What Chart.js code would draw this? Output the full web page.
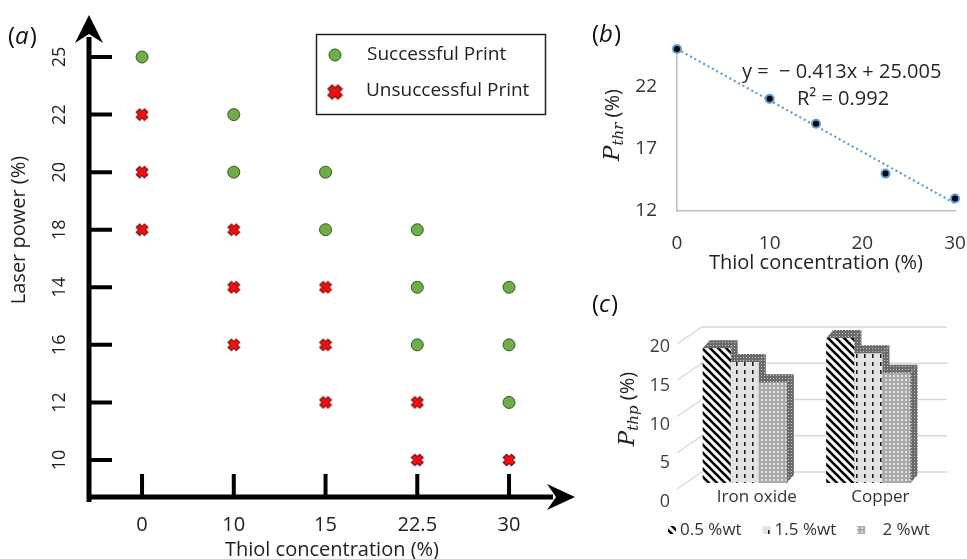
<!DOCTYPE html>
<html>
<head>
<meta charset="utf-8">
<script src="https://cdn.jsdelivr.net/npm/chart.js@4.4.1/dist/chart.umd.min.js"></script>
<style>
  html, body { margin: 0; padding: 0; background: #fff; }
  #wrap { position: relative; width: 967px; height: 559px; overflow: hidden; }
  canvas { position: absolute; }
  #chartA { left: 0; top: 0; }
  #chartB { left: 580px; top: 0; }
  #chartC { left: 580px; top: 290px; }
</style>
</head>
<body>
<div id="wrap">
  <canvas id="chartA" width="580" height="559"></canvas>
  <canvas id="chartB" width="387" height="290"></canvas>
  <canvas id="chartC" width="387" height="269"></canvas>
</div>
<script>
// ---- panel (a): print map, both axes are evenly spaced categories
const thiolCats = ['0', '10', '15', '22.5', '30'];
const powerCats = ['10', '12', '16', '14', '18', '20', '22', '25']; // bottom to top, as printed
const successX = ['0', '10', '10', '15', '15', '22.5', '22.5', '22.5', '30', '30', '30'];
const successY = ['25', '22', '20', '20', '18', '18', '14', '16', '14', '16', '12'];
const failX = ['0', '0', '0', '10', '10', '10', '15', '15', '15', '22.5', '22.5', '30'];
const failY = ['22', '20', '18', '18', '14', '16', '14', '16', '12', '12', '10', '10'];

// ---- panel (b): threshold power vs thiol
const thiolB = [0, 10, 15, 22.5, 30];
const pThr = [25, 21, 19, 15, 13];
const trendX = [0, 30];
const trendY = [25.005, 12.615];
const pThrTicks = [12, 17, 22];

// ---- panel (c): 3D bars
const fillers = ['Iron oxide', 'Copper'];
const wt05 = [18.6, 20.0];
const wt15 = [16.7, 17.9];
const wt2 = [13.9, 15.2];
const pThpTicks = [0, 5, 10, 15, 20];

const SANS = '"Open Sans", "DejaVu Sans", sans-serif';
Chart.defaults.font.family = SANS;
Chart.defaults.color = '#222';

// fixed axis size, no extra padding for overhanging labels
function fixSize(w, h) {
  return s => {
    if (w !== null) s.width = w;
    if (h !== null) s.height = h;
    s.paddingLeft = s.paddingRight = s.paddingTop = s.paddingBottom = 0;
  };
}

function makeCross(size) {
  const c = document.createElement('canvas');
  c.width = c.height = size;
  const g = c.getContext('2d');
  const m = 2.5;
  g.lineCap = 'butt';
  g.strokeStyle = '#7a0c0c'; g.lineWidth = 6;
  g.beginPath();
  g.moveTo(m, m); g.lineTo(size - m, size - m);
  g.moveTo(size - m, m); g.lineTo(m, size - m);
  g.stroke();
  g.strokeStyle = '#f01010'; g.lineWidth = 4;
  g.beginPath();
  g.moveTo(m + 0.8, m + 0.8); g.lineTo(size - m - 0.8, size - m - 0.8);
  g.moveTo(size - m - 0.8, m + 0.8); g.lineTo(m + 0.8, size - m - 0.8);
  g.stroke();
  return c;
}
const crossImg = makeCross(14);

function panelTag(ctx, letter, x, y) {
  ctx.save();
  ctx.fillStyle = '#111';
  ctx.textBaseline = 'middle';
  ctx.textAlign = 'left';
  const up = '24px ' + SANS, it = 'italic 24px ' + SANS;
  ctx.font = up; ctx.fillText('(', x, y);
  let w = ctx.measureText('(').width;
  ctx.font = it; ctx.fillText(letter, x + w, y);
  w += ctx.measureText(letter).width;
  ctx.font = up; ctx.fillText(')', x + w + 1, y);
  ctx.restore();
}

// italic P with subscript, then (%) — rotated, centred at cx, cy
function pTitle(ctx, sub, cx, cy) {
  ctx.save();
  ctx.translate(cx, cy);
  ctx.rotate(-Math.PI / 2);
  ctx.fillStyle = '#222';
  ctx.textBaseline = 'middle';
  ctx.textAlign = 'left';
  const fP = 'italic 23px "DejaVu Serif", "Liberation Serif", serif';
  const fS = 'italic 15px "DejaVu Serif", "Liberation Serif", serif';
  const fT = '20px ' + SANS;
  ctx.font = fP; const wP = ctx.measureText('P').width;
  ctx.font = fS; const wS = ctx.measureText(sub).width;
  ctx.font = fT; const wT = ctx.measureText(' (%)').width;
  let x = -(wP + wS + wT) / 2;
  ctx.font = fP; ctx.fillText('P', x, 0); x += wP;
  ctx.font = fS; ctx.fillText(sub, x, 6); x += wS;
  ctx.font = fT; ctx.fillText(' (%)', x, 0);
  ctx.restore();
}

// ================= panel (a) =================
const axesA = {
  id: 'axesA',
  afterDraw(chart) {
    const { ctx, chartArea: a, scales: { x, y } } = chart;
    ctx.save();
    ctx.strokeStyle = '#000';
    ctx.fillStyle = '#000';
    ctx.lineWidth = 5;
    ctx.beginPath();
    ctx.moveTo(a.left, a.bottom + 5); ctx.lineTo(a.left, a.top + 22);
    ctx.moveTo(a.left - 2.5, a.bottom); ctx.lineTo(a.right - 22, a.bottom);
    ctx.stroke();
    ctx.beginPath();
    ctx.moveTo(a.left, a.top);
    ctx.lineTo(a.left + 14, a.top + 28);
    ctx.lineTo(a.left, a.top + 19);
    ctx.lineTo(a.left - 14, a.top + 28);
    ctx.closePath(); ctx.fill();
    ctx.beginPath();
    ctx.moveTo(a.right, a.bottom);
    ctx.lineTo(a.right - 28, a.bottom - 13);
    ctx.lineTo(a.right - 19, a.bottom);
    ctx.lineTo(a.right - 28, a.bottom + 13);
    ctx.closePath(); ctx.fill();
    ctx.lineWidth = 4;
    ctx.beginPath();
    y.ticks.forEach(t => {
      const py = y.getPixelForValue(t.value);
      ctx.moveTo(a.left, py); ctx.lineTo(a.left + 23, py);
    });
    x.ticks.forEach(t => {
      const px = x.getPixelForValue(t.value);
      ctx.moveTo(px, a.bottom); ctx.lineTo(px, a.bottom - 23);
    });
    ctx.stroke();
    ctx.restore();
  }
};

const legendA = {
  id: 'legendA',
  afterDraw(chart) {
    const { ctx } = chart;
    const ds = chart.data.datasets;
    ctx.save();
    ctx.strokeStyle = '#222'; ctx.lineWidth = 1.5;
    ctx.strokeRect(316.5, 34.5, 229, 80);
    ctx.beginPath();
    ctx.arc(335, 55, ds[0].pointRadius, 0, Math.PI * 2);
    ctx.fillStyle = ds[0].backgroundColor; ctx.fill();
    ctx.strokeStyle = ds[0].borderColor; ctx.lineWidth = ds[0].borderWidth; ctx.stroke();
    ctx.drawImage(ds[1].pointStyle, 335 - 8.5, 92 - 8.5, 17, 17);
    ctx.fillStyle = '#222';
    ctx.font = '19px ' + SANS;
    ctx.textBaseline = 'middle';
    ctx.fillText(ds[0].label, 367, 55);
    ctx.fillText(ds[1].label, 366, 91);
    ctx.restore();
  }
};

const textA = {
  id: 'textA',
  afterDraw(chart) {
    const { ctx } = chart;
    panelTag(ctx, 'a', 8, 37);
    ctx.save();
    ctx.translate(19, 230);
    ctx.rotate(-Math.PI / 2);
    ctx.font = '20px ' + SANS;
    ctx.fillStyle = '#222';
    ctx.textAlign = 'center';
    ctx.textBaseline = 'middle';
    ctx.fillText('Laser power (%)', 0, 0);
    ctx.restore();
  }
};

new Chart(document.getElementById('chartA'), {
  type: 'scatter',
  data: {
    datasets: [
      {
        label: 'Successful Print',
        data: successX.map((x, i) => ({ x: thiolCats.indexOf(x), y: powerCats.indexOf(successY[i]) })),
        pointStyle: 'circle', pointRadius: 6,
        backgroundColor: '#6fad47', borderColor: '#38562a', borderWidth: 1
      },
      {
        label: 'Unsuccessful Print',
        data: failX.map((x, i) => ({ x: thiolCats.indexOf(x), y: powerCats.indexOf(failY[i]) })),
        pointStyle: crossImg, pointRadius: 7,
        backgroundColor: '#f01010', borderColor: '#7a0c0c', borderWidth: 1
      }
    ]
  },
  options: {
    responsive: false,
    animation: false,
    layout: { autoPadding: false, padding: { top: 15, right: 5, left: 0, bottom: 0 } },
    plugins: { legend: { display: false }, tooltip: { enabled: false } },
    scales: {
      x: {
        type: 'linear', min: -0.578, max: 4.719,
        afterBuildTicks: s => { s.ticks = thiolCats.map((_, i) => ({ value: i })); },
        afterFit: fixSize(null, 62),
        grid: { display: false, drawTicks: false },
        border: { display: false },
        ticks: { autoSkip: false, padding: 16, font: { size: 20 }, callback: (v, i) => thiolCats[i] },
        title: {
          display: true, text: 'Thiol concentration (%)',
          font: { size: 20 }, padding: { top: 0, bottom: -3 }
        }
      },
      y: {
        type: 'linear', min: -0.643, max: 7.73,
        afterBuildTicks: s => { s.ticks = powerCats.map((_, i) => ({ value: i })); },
        afterFit: fixSize(89, null),
        grid: { display: false, drawTicks: false },
        border: { display: false },
        ticks: {
          autoSkip: false, minRotation: 90, maxRotation: 90, crossAlign: 'center',
          padding: 19, font: { size: 18 }, callback: (v, i) => powerCats[i]
        }
      }
    }
  },
  plugins: [axesA, legendA, textA]
});

// ================= panel (b) =================
const textB = {
  id: 'textB',
  afterDraw(chart) {
    const { ctx } = chart;
    panelTag(ctx, 'b', 12, 35);
    pTitle(ctx, 'thr', 33, 125);
    ctx.save();
    ctx.font = '20px ' + SANS;
    ctx.fillStyle = '#262626';
    ctx.textBaseline = 'middle';
    ctx.fillText('y =  \u2212 0.413x + 25.005', 162, 72);
    ctx.fillText('R\u00b2 = 0.992', 217, 99);
    ctx.restore();
  }
};

new Chart(document.getElementById('chartB'), {
  type: 'scatter',
  data: {
    datasets: [
      {
        type: 'line', label: 'Linear fit',
        data: trendX.map((x, i) => ({ x, y: trendY[i] })),
        borderColor: '#5b9bd5', borderWidth: 2.2, borderDash: [2, 3],
        pointRadius: 0, fill: false, clip: false, order: 2
      },
      {
        label: 'Pthr',
        data: thiolB.map((x, i) => ({ x, y: pThr[i] })),
        backgroundColor: '#000', borderColor: '#5b9bd5', borderWidth: 2,
        pointRadius: 4, clip: false, order: 1
      }
    ]
  },
  options: {
    responsive: false,
    animation: false,
    layout: { autoPadding: false, padding: { top: 49, right: 12, left: 0, bottom: 0 } },
    plugins: { legend: { display: false }, tooltip: { enabled: false } },
    scales: {
      x: {
        min: 0, max: 30,
        afterBuildTicks: s => { s.ticks = [0, 10, 20, 30].map(v => ({ value: v })); },
        afterFit: fixSize(null, 79),
        grid: { display: false, drawTicks: false },
        border: { display: true, color: '#bfbfbf', width: 1.5 },
        ticks: { padding: 21, font: { size: 19 }, color: '#333' },
        title: {
          display: true, text: 'Thiol concentration (%)',
          font: { size: 20 }, padding: { top: 0, bottom: 15 }
        }
      },
      y: {
        min: 12, max: 25,
        afterBuildTicks: s => { s.ticks = pThrTicks.map(v => ({ value: v })); },
        afterFit: fixSize(97, null),
        grid: { display: false, drawTicks: false },
        border: { display: true, color: '#bfbfbf', width: 1.5 },
        ticks: { padding: 20, font: { size: 19 }, color: '#333' }
      }
    }
  },
  plugins: [textB]
});

// ================= panel (c) =================
const ctxC = document.getElementById('chartC').getContext('2d');
function makePattern(w, h, paint) {
  const c = document.createElement('canvas');
  c.width = w; c.height = h;
  paint(c.getContext('2d'), w, h);
  return ctxC.createPattern(c, 'repeat');
}
const pat05 = makePattern(8, 8, (g) => {
  g.fillStyle = '#fff'; g.fillRect(0, 0, 8, 8);
  g.strokeStyle = '#000'; g.lineWidth = 2.6;
  [-8, 0, 8].forEach(k => { g.beginPath(); g.moveTo(k - 1, -1); g.lineTo(k + 9, 9); g.stroke(); });
});
const pat15 = makePattern(8, 8, (g) => {
  g.fillStyle = '#e4e4e4'; g.fillRect(0, 0, 8, 8);
  g.fillStyle = '#cfcfcf'; g.fillRect(1, 2, 1, 1); g.fillRect(6, 6, 1, 1);
  g.fillStyle = '#1e1e1e'; g.fillRect(4, 0, 1.6, 4);
});
const pat2 = makePattern(4, 4, (g) => {
  g.fillStyle = '#a8a8a8'; g.fillRect(0, 0, 4, 4);
  g.fillStyle = '#e2e2e2'; g.fillRect(1, 1, 2, 2);
});
const patFace = makePattern(3, 3, (g) => {
  g.fillStyle = '#6a6a6a'; g.fillRect(0, 0, 3, 3);
  g.fillStyle = '#c4c4c4'; g.fillRect(1, 1, 1, 1);
});
const DX = 7, DY = -8;

const gridC = {
  id: 'gridC',
  beforeDatasetsDraw(chart) {
    const { ctx, chartArea: a, scales: { y } } = chart;
    ctx.save();
    ctx.strokeStyle = '#d9d9d9';
    ctx.lineWidth = 1.3;
    ctx.beginPath();
    pThpTicks.forEach(v => {
      const py = y.getPixelForValue(v);
      ctx.moveTo(a.left - 6, py + 6);
      ctx.lineTo(a.left + 19, py - 11);
      ctx.lineTo(a.right + 17, py - 11);
    });
    ctx.stroke();
    ctx.restore();
  }
};

const bars3d = {
  id: 'bars3d',
  afterDatasetsDraw(chart) {
    const { ctx } = chart;
    ctx.save();
    chart.data.datasets.forEach((ds, i) => {
      chart.getDatasetMeta(i).data.forEach(el => {
        const { x, y, width, base } = el.getProps(['x', 'y', 'width', 'base'], true);
        const l = x - width / 2, r = x + width / 2;
        ctx.fillStyle = ds.backgroundColor;
        ctx.fillRect(l, y, width, base - y);
        ctx.fillStyle = patFace;
        ctx.beginPath();
        ctx.moveTo(l, y); ctx.lineTo(r, y); ctx.lineTo(r + DX, y + DY); ctx.lineTo(l + DX, y + DY);
        ctx.closePath(); ctx.fill();
        ctx.beginPath();
        ctx.moveTo(r, y); ctx.lineTo(r + DX, y + DY); ctx.lineTo(r + DX, base + DY); ctx.lineTo(r, base);
        ctx.closePath(); ctx.fill();
      });
    });
    ctx.restore();
  }
};

const legendC = {
  id: 'legendC',
  afterDraw(chart) {
    const { ctx } = chart;
    ctx.save();
    ctx.font = '17px ' + SANS;
    ctx.textBaseline = 'middle';
    let x = 88;
    chart.data.datasets.forEach(ds => {
      ctx.fillStyle = ds.backgroundColor;
      ctx.fillRect(x, 236, 8, 8);
      ctx.fillStyle = '#333';
      ctx.fillText(ds.label, x + 12, 240);
      x += 12 + ctx.measureText(ds.label).width + 21;
    });
    ctx.restore();
  }
};

const textC = {
  id: 'textC',
  afterDraw(chart) {
    const { ctx } = chart;
    panelTag(ctx, 'c', 12, 15);
    pTitle(ctx, 'thp', 48, 119);
  }
};

new Chart(ctxC, {
  type: 'bar',
  data: {
    labels: fillers,
    datasets: [
      { label: '0.5 %wt', data: wt05, backgroundColor: pat05, borderWidth: 0 },
      { label: '1.5 %wt', data: wt15, backgroundColor: pat15, borderWidth: 0 },
      { label: '   2 %wt', data: wt2, backgroundColor: pat2, borderWidth: 0 }
    ]
  },
  options: {
    responsive: false,
    animation: false,
    datasets: { bar: { categoryPercentage: 0.68, barPercentage: 1 } },
    layout: { autoPadding: false, padding: { top: 20, right: 36.75, left: 70.5, bottom: 0 } },
    plugins: { legend: { display: false }, tooltip: { enabled: false } },
    scales: {
      x: {
        afterFit: fixSize(null, 76),
        grid: { display: false, drawTicks: false },
        border: { display: false },
        ticks: { padding: 4, labelOffset: 12, font: { size: 17 }, color: '#333' }
      },
      y: { display: false, min: 0, max: 23.86 },
      y2: {
        position: 'left', min: 2.45, max: 24.77,
        afterBuildTicks: s => { s.ticks = pThpTicks.map(v => ({ value: v })); },
        afterFit: fixSize(32.5, null),
        grid: { display: false, drawTicks: false },
        border: { display: false },
        ticks: { autoSkip: false, padding: 13, font: { size: 18 }, color: '#404040' }
      }
    }
  },
  plugins: [gridC, bars3d, legendC, textC]
});
</script>
</body>
</html>
